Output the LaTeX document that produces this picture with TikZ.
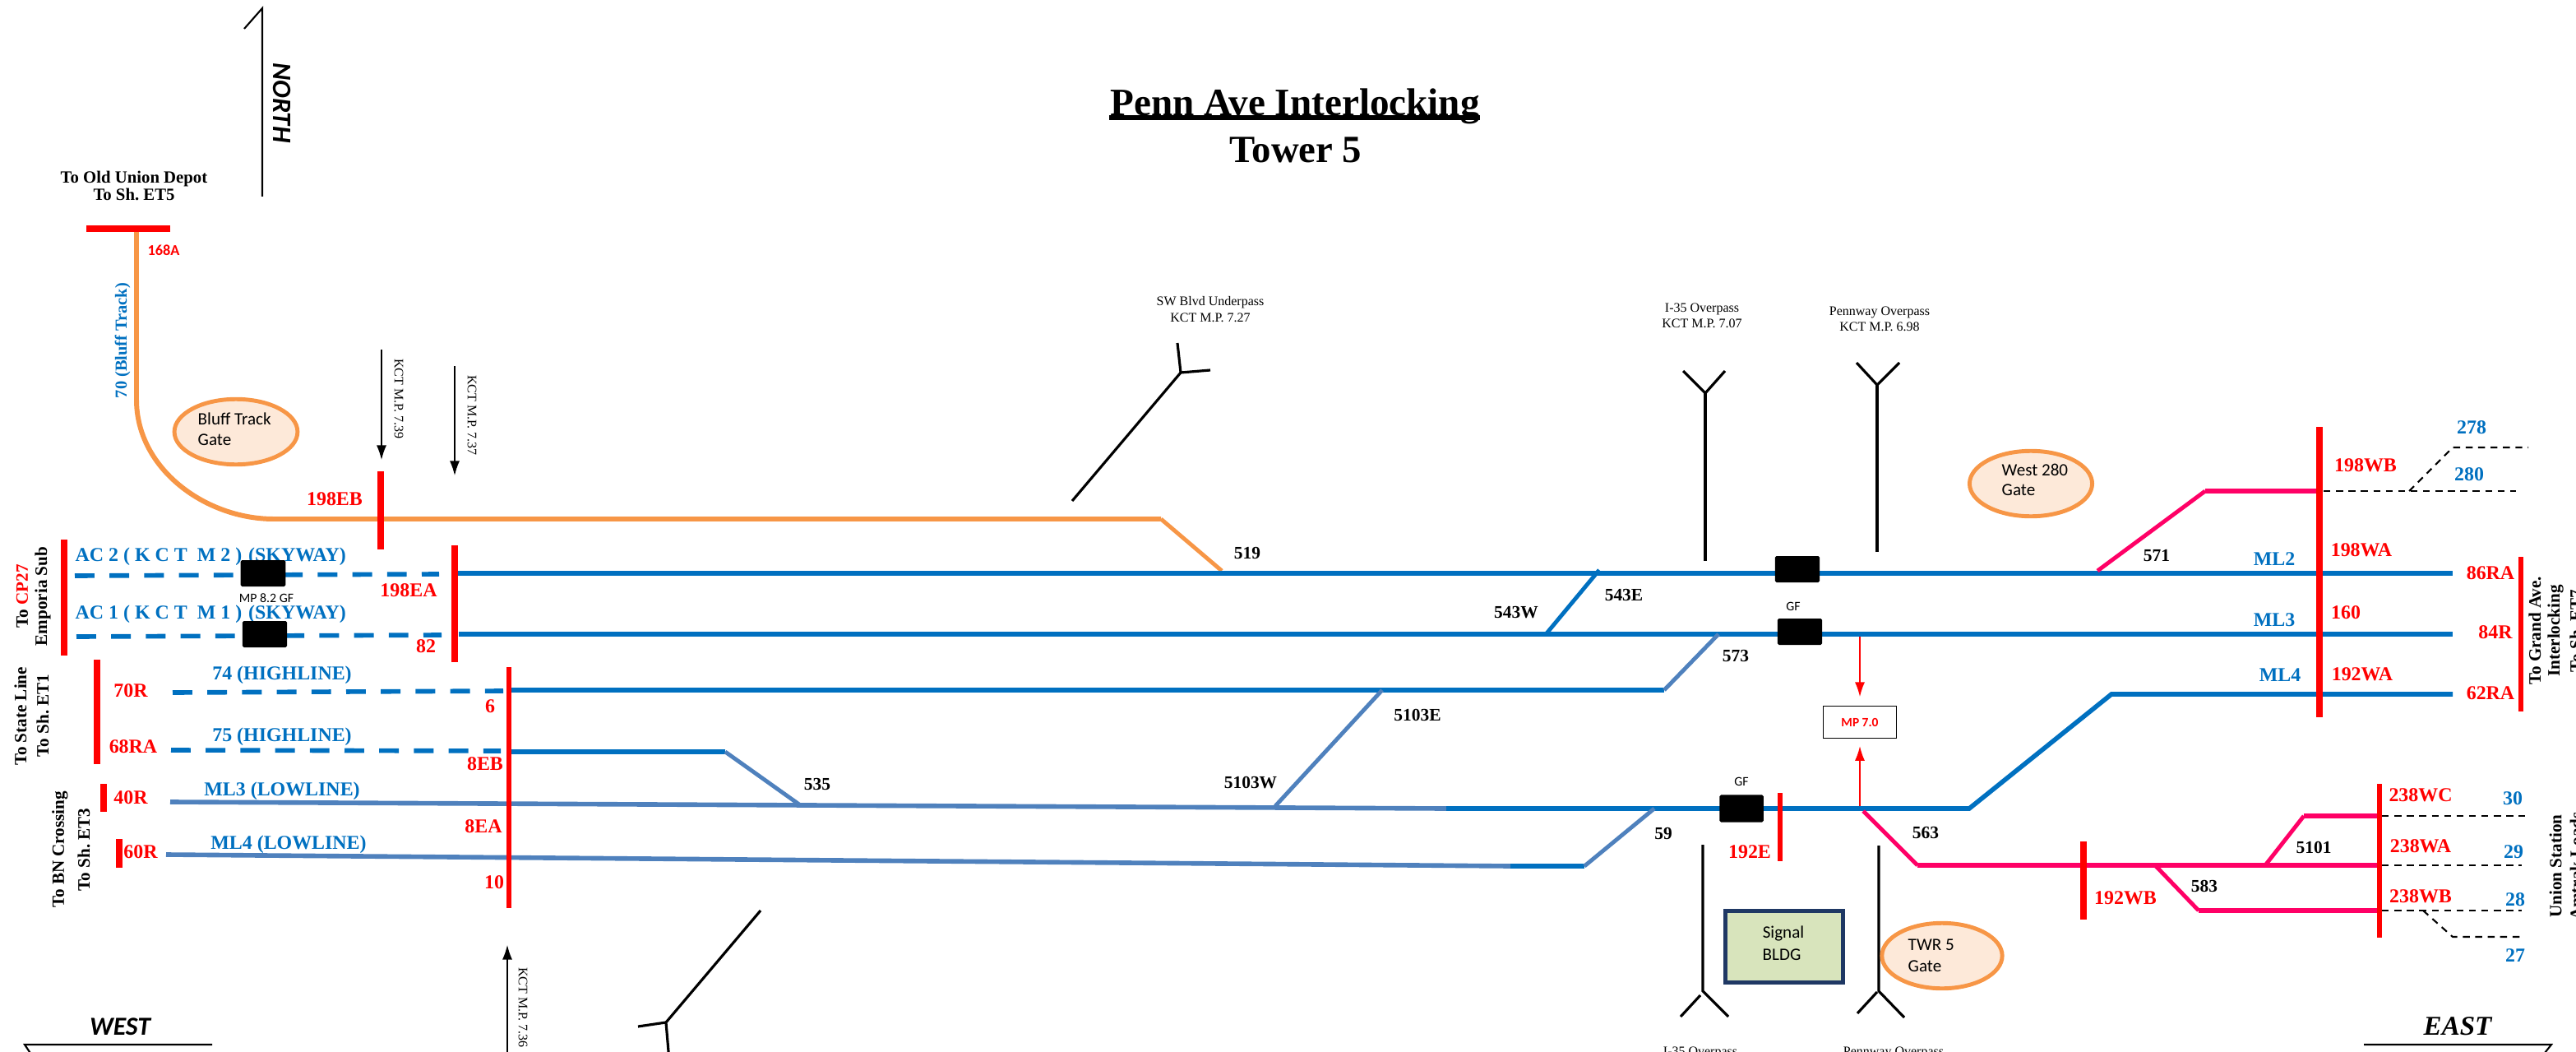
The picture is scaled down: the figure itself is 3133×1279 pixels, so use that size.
\documentclass[tikz,border=0pt]{standalone}
\usepackage{fontspec}
\usepackage{tikz}
\usetikzlibrary{shapes.geometric, arrows.meta}
\setmainfont{Liberation Serif}
\newfontfamily\carlito{Carlito}
\definecolor{trackblue}{RGB}{0,112,192}
\definecolor{lineblue}{RGB}{79,129,189}
\definecolor{bluffor}{RGB}{247,150,70}
\definecolor{gatefill}{RGB}{253,233,217}
\definecolor{westpink}{RGB}{255,0,102}
\definecolor{bldggreen}{RGB}{216,228,188}
\definecolor{bldgnavy}{RGB}{31,56,100}

\begin{document}
\frenchspacing
\begin{tikzpicture}[x=0.01cm, y=-0.01cm,
    track/.style={line width=1.6pt, trackblue},
    lowtrack/.style={line width=1.6pt, lineblue},
    xover/.style={line width=1.4pt, lineblue},
    pinktrack/.style={line width=1.9pt, westpink},
    pinkx/.style={line width=1.4pt, westpink},
    dashtrack/.style={line width=1.6pt, trackblue, dash pattern=on 6.8pt off 5.2pt},
    stub/.style={line width=0.6pt, black, dash pattern=on 2.4pt off 1.9pt},
    signalbar/.style={line width=2.1pt, red},
    thinbar/.style={line width=1.5pt, red},
    bridge/.style={line width=0.9pt, black},
    redlabel/.style={font=\fontsize{6.8}{8}\selectfont\bfseries, text=red, inner sep=0pt},
    bluelabel/.style={font=\fontsize{6.8}{8}\selectfont\bfseries, text=trackblue, inner sep=0pt},
    numlabel/.style={font=\fontsize{6.1}{7}\selectfont\bfseries, inner sep=0pt},
    sidelabel/.style={font=\fontsize{6}{7}\selectfont\bfseries, inner sep=0pt, rotate=90},
    mplabel/.style={font=\fontsize{4.55}{5.5}\selectfont, inner sep=0pt, align=center},
    gflabel/.style={font=\carlito\fontsize{4.5}{5.5}\selectfont, inner sep=0pt},
    gatetext/.style={font=\carlito\fontsize{6}{7}\selectfont, inner sep=0pt, anchor=west},
    gate/.style={ellipse, draw=bluffor, fill=gatefill, line width=1.4pt, inner sep=0pt},
    gfbox/.style={rectangle, rounded corners=0.5pt, fill=black, inner sep=0pt}]
    \useasboundingbox (0,0) rectangle (3133,1279);
    \clip (0,0) rectangle (3133,1279);

    % Title
    \node[font=\fontsize{13.4}{14}\selectfont\bfseries, inner sep=0pt] (title) at (1575,129) {Penn Ave Interlocking};
    \draw[line width=1.7pt] (1349,143) -- (1800,143);
    \node[font=\fontsize{13.3}{14}\selectfont\bfseries, inner sep=0pt] (tower) at (1576,182) {Tower 5};

    % North, west and east marks
    \draw[line width=0.6pt] (297,35) -- (319,10) -- (319,239);
    \node[font=\carlito\fontsize{9.2}{10}\selectfont\bfseries\itshape, inner sep=0pt, rotate=-90] (north) at (343,125) {NORTH};
    \node[font=\carlito\fontsize{9}{10}\selectfont\bfseries\itshape, inner sep=0pt] (west) at (146,1248) {WEST};
    \draw[line width=0.6pt] (258,1270) -- (30,1270) -- (40,1285);
    \node[font=\fontsize{9.4}{10}\selectfont\bfseries\itshape, inner sep=0pt] (east) at (2989,1248) {EAST};
    \draw[line width=0.6pt] (2875,1270) -- (3103,1270) -- (3091,1285);

    % Bluff track
    \node[align=center, font=\fontsize{5.9}{6}\selectfont\bfseries, inner sep=0pt] (depot) at (163,226) {To Old Union Depot\\To Sh. ET5};
    \draw[signalbar] (105,278) -- (207,278);
    \node[font=\carlito\fontsize{5.2}{6}\selectfont\bfseries, text=red, inner sep=0pt] (s168a) at (199,304) {168A};
    \draw[line width=1.7pt, bluffor] (166,282) -- (166,486) .. controls (166,570) and (250,631) .. (333,631) -- (1412,631);
    \draw[line width=1.4pt, bluffor] (1412,631) -- (1486,694);
    \node[font=\fontsize{5.8}{7}\selectfont\bfseries, text=trackblue, inner sep=0pt, rotate=90] (bluff) at (149,414) {70 (Bluff Track)};
    \node[gate, minimum width=42.6pt, minimum height=22.6pt] (bluffgate) at (287,525) {};
    \node[gatetext] (blufftext) at (240,509) {Bluff Track};
    \node[gatetext] (bluffgt) at (240,535) {Gate};

    % Milepost arrows
    \draw[-{Latex[length=5pt,width=3.4pt]}, line width=0.35pt] (464,425) -- (464,559);
    \node[mplabel, rotate=-90] (kct39) at (485,485) {KCT M.P. 7.39};
    \draw[-{Latex[length=5pt,width=3.4pt]}, line width=0.35pt] (553,445) -- (553,578);
    \node[mplabel, rotate=-90] (kct37) at (574,505) {KCT M.P. 7.37};
    \draw[-{Latex[length=5pt,width=3.4pt]}, line width=0.35pt] (617,1285) -- (617,1149);
    \node[mplabel, rotate=-90] (kct36) at (636,1225) {KCT M.P. 7.36};

    % Overpasses
    \node[mplabel] (swblvd) at (1472,376) {SW Blvd Underpass\\KCT M.P. 7.27};
    \draw[bridge] (1304,609) -- (1436,453);
    \draw[bridge] (1432,417) -- (1436,453) -- (1472,450);
    \draw[bridge] (925,1107) -- (810,1243) -- (814,1290);
    \draw[bridge] (776,1248) -- (810,1243);
    \node[mplabel] (i35top) at (2070,384) {I-35 Overpass\\KCT M.P. 7.07};
    \draw[bridge] (2074,682) -- (2074,478);
    \draw[bridge] (2047,451) -- (2074,478) -- (2098,451);
    \node[mplabel] (pennway) at (2286,388) {Pennway Overpass\\KCT M.P. 6.98};
    \draw[bridge] (2283,671) -- (2283,468);
    \draw[bridge] (2258,441) -- (2283,468) -- (2310,441);
    \draw[bridge] (2071,1027) -- (2071,1205) -- (2102,1236);
    \draw[bridge] (2068,1210) -- (2044,1236);
    \draw[bridge] (2285,1028) -- (2285,1205) -- (2316,1237);
    \draw[bridge] (2283,1206) -- (2259,1232);
    \node[mplabel, anchor=north] (i35bot) at (2068,1272) {I-35 Overpass};
    \node[mplabel, anchor=north] (pennbot) at (2303,1272) {Pennway Overpass};

    % West end
    \draw[signalbar] (78,656) -- (78,797);
    \node[sidelabel] (cp27) at (27,725) {To \textcolor{red}{CP27}};
    \node[sidelabel] (emporia) at (52,725) {Emporia Sub};
    \node[bluelabel, anchor=west] (ac2) at (91,677) {AC 2 ( K~C~T~~M~2~)\,\,(SKYWAY)};
    \node[bluelabel, anchor=west] (ac1) at (91,747) {AC 1 ( K~C~T~~M~1~)\,\,(SKYWAY)};
    \draw[dashtrack] (91,700) -- (534,698);
    \draw[dashtrack] (93,774) -- (537,772);
    \draw[signalbar] (118,802) -- (118,929);
    \node[sidelabel] (stateline) at (25,871) {To State Line};
    \node[sidelabel] (et1) at (52,870) {To Sh. ET1};
    \node[redlabel] (s70r) at (159,840) {70R};
    \node[redlabel] (s68ra) at (162,908) {68RA};
    \node[bluelabel] (hl74) at (343,821) {74 (HIGHLINE)};
    \node[bluelabel] (hl75) at (343,896) {75 (HIGHLINE)};
    \draw[dashtrack] (210,842) -- (612,840);
    \draw[dashtrack] (208,912) -- (609,913);
    \draw[signalbar] (126,953) -- (126,987);
    \draw[signalbar] (145,1020) -- (145,1055);
    \node[redlabel] (s40r) at (159,970) {40R};
    \node[redlabel] (s60r) at (171,1036) {60R};
    \node[sidelabel] (bnx) at (73,1033) {To BN Crossing};
    \node[sidelabel] (et3) at (102,1033) {To Sh. ET3};
    \node[bluelabel] (ll3) at (343,962) {ML3 (LOWLINE)};
    \node[bluelabel] (ll4) at (351,1027) {ML4 (LOWLINE)};

    % Main tracks
    \draw[track] (555,697) -- (2983,697);
    \draw[track] (558,771) -- (2983,771);
    \draw[track] (622,839) -- (2024,839);
    \draw[track] (622,914) -- (882,914);
    \draw[lowtrack] (207,975) -- (1759,983);
    \draw[track] (1759,983) -- (2395,983) -- (2568,844) -- (2983,844);
    \draw[lowtrack] (202,1039) -- (1837,1053);
    \draw[track] (1837,1053) -- (1927,1053);

    % Crossovers
    \draw[xover] (882,914) -- (972,978);
    \draw[xover] (1551,980) -- (1681,839);
    \draw[xover] (1927,1053) -- (2012,983);
    \draw[xover] (2024,839) -- (2090,771);
    \draw[line width=1.4pt, trackblue] (1881,770) -- (1945,693);

    % Pink side
    \draw[pinkx] (2551,694) -- (2682,597);
    \draw[pinktrack] (2682,597) -- (2821,597);
    \draw[pinkx] (2266,986) -- (2332,1052);
    \draw[pinktrack] (2332,1052) -- (2894,1052);
    \draw[pinkx] (2621,1052) -- (2674,1107);
    \draw[pinktrack] (2674,1107) -- (2894,1107);
    \draw[pinkx] (2755,1052) -- (2802,992);
    \draw[pinktrack] (2802,992) -- (2894,992);

    % Signal bars
    \draw[line width=2.2pt, red] (463,573) -- (463,668);
    \draw[signalbar] (553,663) -- (553,805);
    \draw[thinbar] (619,811) -- (619,1104);
    \draw[thinbar] (2165,964) -- (2165,1047);
    \draw[signalbar] (2534,1023) -- (2534,1118);
    \draw[line width=2.3pt, red] (2821,519) -- (2821,872);
    \draw[thinbar] (2894,953) -- (2894,1140);
    \draw[line width=1.8pt, red] (3066,677) -- (3066,865);

    % Black boxes
    \node[gfbox, minimum width=15.6pt, minimum height=9.1pt] (box1) at (320,697) {};
    \node[gfbox, minimum width=15.4pt, minimum height=9.1pt] (box2) at (322,771) {};
    \node[gfbox, minimum width=15.4pt, minimum height=9.1pt] (box3) at (2186,692) {};
    \node[gfbox, minimum width=15.4pt, minimum height=9.1pt] (box4) at (2189,768) {};
    \node[gfbox, minimum width=15.2pt, minimum height=9.4pt] (box5) at (2118,983) {};
    \node[gflabel] (mp82) at (324,727) {MP 8.2 GF};
    \node[gflabel] (gf1) at (2181,737) {GF};
    \node[gflabel] (gf2) at (2118,950) {GF};

    % Red labels
    \foreach \nm/\tx/\px/\py in {eb198/198EB/407/607, ea198/198EA/497/718, s82/82/518/786, s6/6/596/859,
        eb8/8EB/590/929, ea8/8EA/588/1005, s10/10/601/1073, e192/192E/2128/1036, wb192/192WB/2585/1092,
        wb198/198WB/2877/566, wa198/198WA/2872/669, s160/160/2853/745, wa192/192WA/2873/820,
        ra86/86RA/3029/697, r84/84R/3035/769, ra62/62RA/3029/843,
        wc238/238WC/2944/967, wa238/238WA/2944/1029, wb238/238WB/2944/1090} {
        \node[redlabel] (\nm) at (\px,\py) {\tx};
    }
    % Track numbers
    \foreach \nm/\tx/\px/\py in {l519/519/1517/672, l543w/543W/1844/745, l543e/543E/1975/723, l573/573/2111/797,
        l5103e/5103E/1724/869, l5103w/5103W/1521/952, l535/535/994/953, l59/59/2023/1013, l563/563/2342/1012,
        l571/571/2623/676, l583/583/2681/1077, l5101/5101/2814/1030} {
        \node[numlabel] (\nm) at (\px,\py) {\tx};
    }
    \foreach \nm/\tx/\px/\py in {ml2/ML2/2766/680, ml3/ML3/2766/754, ml4/ML4/2773/821,
        n278/278/3006/520, n280/280/3003/577, n30/30/3056/971, n29/29/3057/1036, n28/28/3059/1094, n27/27/3059/1162} {
        \node[bluelabel] (\nm) at (\px,\py) {\tx};
    }

    % Dashed stubs
    \draw[stub] (2826,597) -- (3060,597);
    \draw[stub] (2930,597) -- (2983,544) -- (3075,544);
    \draw[stub] (2897,992) -- (3071,992);
    \draw[stub] (2897,1052) -- (3067,1052);
    \draw[stub] (2897,1107) -- (3067,1107);
    \draw[stub] (2947,1107) -- (2983,1139) -- (3067,1139);

    % MP 7.0
    \node[draw, line width=0.5pt, minimum width=25.3pt, minimum height=11.1pt, inner sep=0pt, text=red, font=\carlito\fontsize{4.4}{5}\selectfont\bfseries] (mp70) at (2262,878) {MP 7.0};
    \draw[-{Latex[length=5pt,width=3.4pt]}, red, line width=0.4pt] (2262,774) -- ([yshift=3pt]mp70.north);
    \draw[-{Latex[length=5pt,width=3.4pt]}, red, line width=0.4pt] (2262,980) -- ([yshift=-2.5pt]mp70.south);

    % Gates and building
    \node[gate, minimum width=42.4pt, minimum height=22.6pt] (westgate) at (2470,588) {};
    \node[gatetext] (wgtext) at (2434,571) {West 280};
    \node[gatetext] (wgate) at (2434,596) {Gate};
    \node[gate, minimum width=41.6pt, minimum height=22.6pt] (twrgate) at (2362,1162) {};
    \node[gatetext] (twrtext) at (2320,1149) {TWR 5};
    \node[gatetext] (twrgt) at (2320,1175) {Gate};
    \node[draw=bldgnavy, fill=bldggreen, line width=1.3pt, minimum width=40.8pt, minimum height=24.8pt, inner sep=0pt] (bldg) at (2170,1151) {};
    \node[gatetext, anchor=center] (sigtext) at (2169,1135) {Signal};
    \node[gatetext, anchor=center] (bldgtext) at (2167,1161) {BLDG};

    % East end
    \node[sidelabel] (grand) at (3083,767) {To Grand Ave.};
    \node[sidelabel] (inter) at (3108,767) {Interlocking};
    \node[sidelabel] (et7) at (3133,767) {To Sh. ET7};
    \node[sidelabel] (union) at (3108,1053) {Union Station};
    \node[sidelabel] (amtrak) at (3133,1053) {Amtrak Loads};
\end{tikzpicture}
\end{document}
